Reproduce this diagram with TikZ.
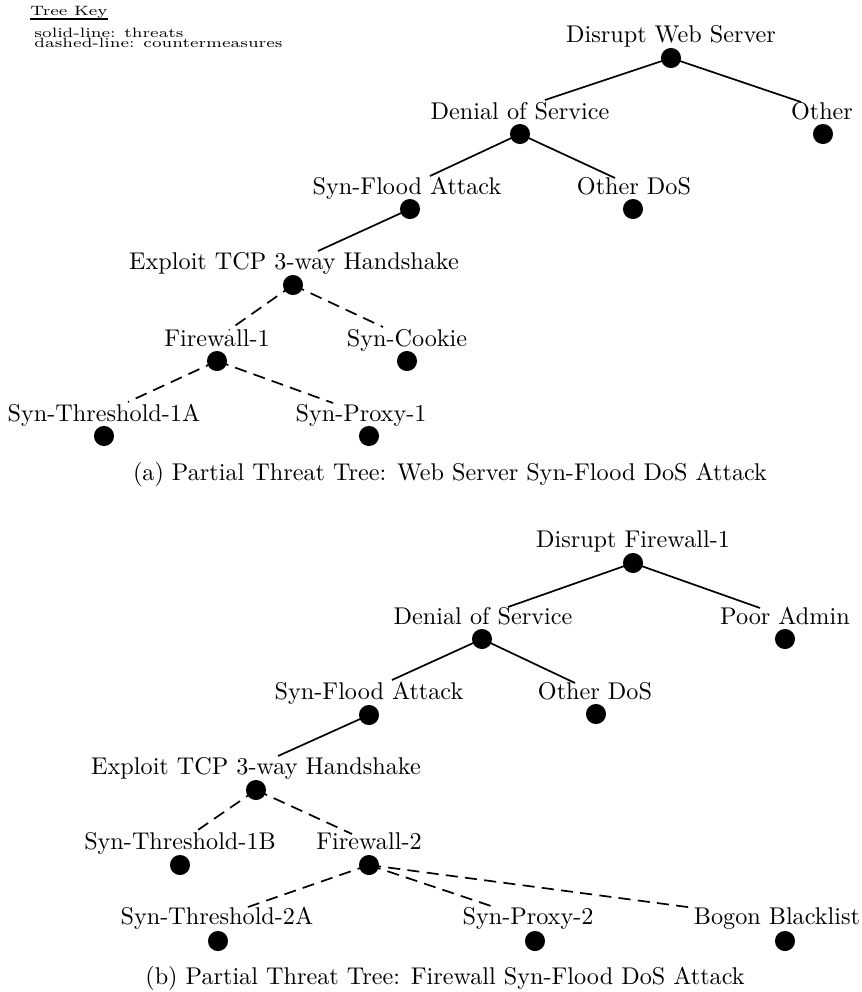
\documentclass[tikz,border=0pt]{standalone}
\usepackage{graphicx}
\begin{document}
\begin{tikzpicture}[x=0.4132pt,y=-0.4132pt,
  dot/.style={circle,fill=black,inner sep=0pt,minimum size=8.3pt},
  lbl/.style={anchor=base,inner sep=0pt},
  keytxt/.style={anchor=base west,inner sep=0pt,font=\scriptsize},
  threat/.style={line width=0.7pt},
  counter/.style={line width=0.7pt,dash pattern=on 5pt off 3pt}]
\useasboundingbox (0,0) rectangle (862,992);

% ---- key
\node[keytxt] (kt) at (30,15) {\scalebox{1}[0.8]{Tree Key}};
\draw[line width=0.6pt] (kt.base west) ++(0,4) coordinate (ku1) -- ([yshift=-4*0.4132pt]kt.base east) coordinate (ku2);
\node[keytxt] (k1) at (34,37) {\scalebox{1}[0.8]{solid-line: threats}};
\node[keytxt] (k2) at (34,47) {\scalebox{1}[0.8]{dashed-line: countermeasures}};

% ---- tree (a)
\node[dot] (dws) at (671,58) {};   \node[lbl] (dwsT) at (671,42) {Disrupt Web Server};
\node[dot] (dosa) at (520,134) {}; \node[lbl] (dosaT) at (520,119) {Denial of Service};
\node[dot] (oth) at (823,134) {};  \node[lbl] (othT) at (822,119) {Other};
\node[dot] (sfaa) at (410,209) {}; \node[lbl] (sfaaT) at (407,194) {Syn-Flood Attack};
\node[dot] (odosa) at (633,209) {};\node[lbl] (odosaT) at (634,194) {Other DoS};
\node[dot] (exa) at (293,285) {};  \node[lbl] (exaT) at (294,269) {Exploit TCP 3-way Handshake};
\node[dot] (fwa) at (217,361) {};  \node[lbl] (fwaT) at (217,346) {Firewall-1};
\node[dot] (sc) at (407,361) {};   \node[lbl] (scT) at (407,346) {Syn-Cookie};
\node[dot] (sta) at (104,436) {};  \node[lbl] (staT) at (104,421) {Syn-Threshold-1A};
\node[dot] (spa) at (369,436) {};  \node[lbl] (spaT) at (361,421) {Syn-Proxy-1};

\coordinate (ea1) at (545,100);
\coordinate (ea2) at (801,102);
\coordinate (ea3) at (430,176);
\coordinate (ea4) at (615,178);
\coordinate (ea5) at (318,251);
\coordinate (ea6) at (229,330);
\coordinate (ea7) at (383,327);
\coordinate (ea8) at (128,402);
\coordinate (ea9) at (333,403);

\draw[threat] (dws.center) -- (ea1);
\draw[threat] (dws.center) -- (ea2);
\draw[threat] (dosa.center) -- (ea3);
\draw[threat] (dosa.center) -- (ea4);
\draw[threat] (sfaa.center) -- (ea5);
\draw[counter] (exa.center) -- (ea6);
\draw[counter] (exa.center) -- (ea7);
\draw[counter] (fwa.center) -- (ea8);
\draw[counter] (fwa.center) -- (ea9);

\node[lbl] (capa) at (450,480) {(a) Partial Threat Tree: Web Server Syn-Flood DoS Attack};

% ---- tree (b)
\node[dot] (dfw) at (633,563) {};  \node[lbl] (dfwT) at (633,547) {Disrupt Firewall-1};
\node[dot] (dosb) at (482,639) {}; \node[lbl] (dosbT) at (483,624) {Denial of Service};
\node[dot] (pa) at (785,639) {};   \node[lbl] (paT) at (785,624) {Poor Admin};
\node[dot] (sfab) at (369,715) {}; \node[lbl] (sfabT) at (369,699) {Syn-Flood Attack};
\node[dot] (odosb) at (596,714) {};\node[lbl] (odosbT) at (595,699) {Other DoS};
\node[dot] (exb) at (256,790) {};  \node[lbl] (exbT) at (256,774) {Exploit TCP 3-way Handshake};
\node[dot] (stb) at (180,865) {};  \node[lbl] (stbT) at (180,849) {Syn-Threshold-1B};
\node[dot] (fwb) at (369,865) {};  \node[lbl] (fwbT) at (369,849) {Firewall-2};
\node[dot] (stc) at (218,941) {};  \node[lbl] (stcT) at (217,924) {Syn-Threshold-2A};
\node[dot] (spb) at (535,941) {};  \node[lbl] (spbT) at (528,924) {Syn-Proxy-2};
\node[dot] (bb) at (785,941) {};   \node[lbl] (bbT) at (777,924) {Bogon Blacklist};

\coordinate (eb1) at (508,607);
\coordinate (eb2) at (760,608);
\coordinate (eb3) at (392,680);
\coordinate (eb4) at (575,683);
\coordinate (eb5) at (278,756);
\coordinate (eb6) at (195,832);
\coordinate (eb7) at (352,834);
\coordinate (eb8) at (248,907);
\coordinate (eb9) at (497,908);
\coordinate (eb10) at (695,908);

\draw[threat] (dfw.center) -- (eb1);
\draw[threat] (dfw.center) -- (eb2);
\draw[threat] (dosb.center) -- (eb3);
\draw[threat] (dosb.center) -- (eb4);
\draw[threat] (sfab.center) -- (eb5);
\draw[counter] (exb.center) -- (eb6);
\draw[counter] (exb.center) -- (eb7);
\draw[counter] (fwb.center) -- (eb8);
\draw[counter] (fwb.center) -- (eb9);
\draw[counter] (fwb.center) -- (eb10);

\node[lbl] (capb) at (445,984) {(b) Partial Threat Tree: Firewall Syn-Flood DoS Attack};
\end{tikzpicture}
\end{document}
